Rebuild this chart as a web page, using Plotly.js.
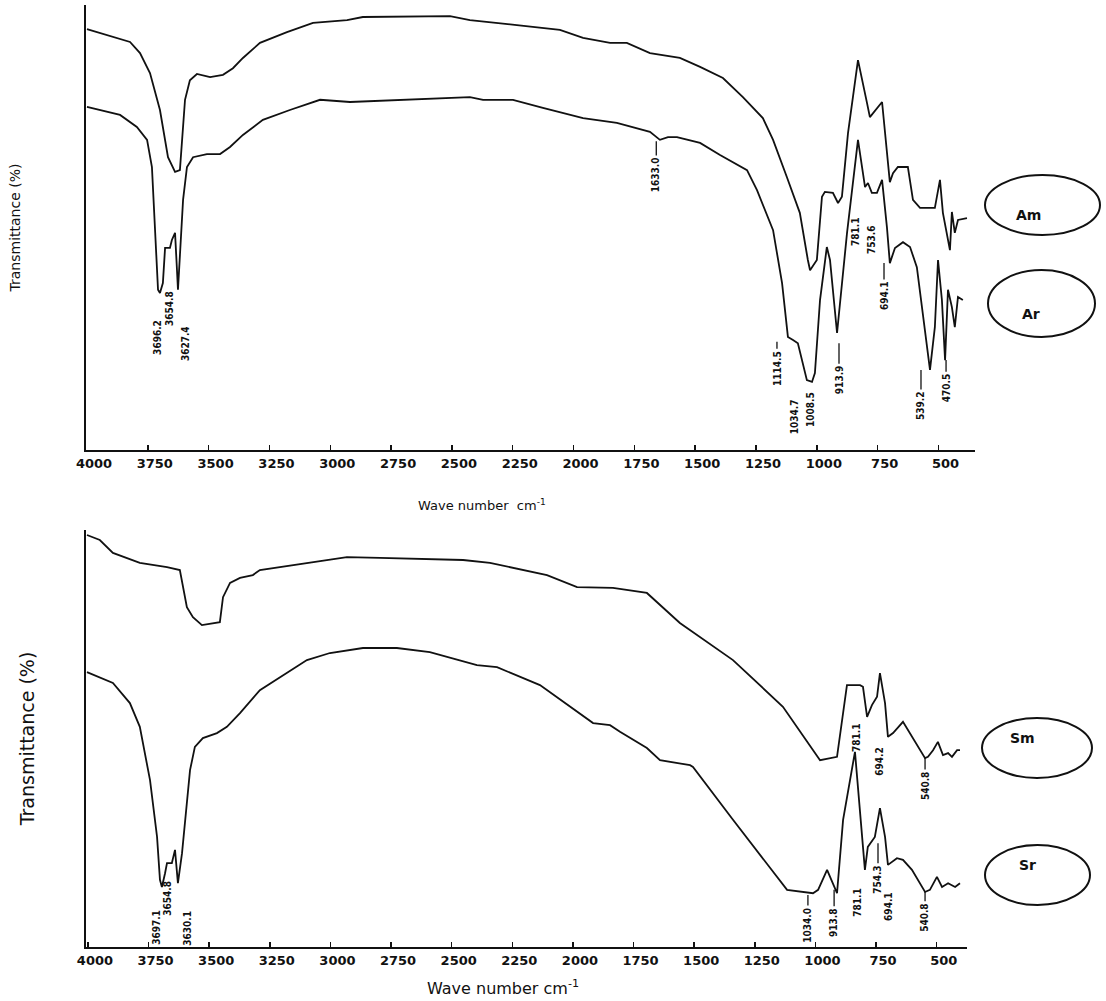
<!DOCTYPE html>
<html>
<head>
<meta charset="utf-8">
<script src="https://cdn.plot.ly/plotly-3.0.1.min.js"></script>
<style>
  html, body { margin: 0; padding: 0; background: #ffffff; }
  #chart { width: 1106px; height: 1001px; }
</style>
</head>
<body>
<div id="chart"></div>
<script>
// ---------- DATA ----------
// Top panel: Am (upper curve) and Ar (lower curve)
const amWave = [4000, 3823, 3782, 3741, 3700, 3667, 3638, 3618, 3597, 3577, 3548, 3494, 3441, 3400, 3359, 3289, 3178, 3071, 2931, 2866, 2508, 2426, 2233, 2056, 1961, 1850, 1781, 1686, 1563, 1480, 1386, 1304, 1222, 1180, 1123, 1070, 1037, 1028, 1000, 979, 967, 934, 913, 897, 872, 831, 794, 782, 732, 700, 687, 667, 626, 605, 576, 515, 494, 482, 453, 445, 433, 420, 383];
const amT    = [94.6, 91.7, 89.2, 84.7, 76.4, 65.8, 62.5, 62.9, 78.7, 83.1, 84.5, 83.8, 84.3, 85.8, 88.1, 91.5, 93.9, 96.0, 96.6, 97.3, 97.5, 96.6, 95.5, 94.4, 92.6, 91.5, 91.5, 89.2, 88.1, 86.1, 83.6, 79.3, 74.6, 69.7, 61.3, 53.3, 42.7, 40.4, 42.7, 56.9, 58.0, 57.8, 55.5, 56.9, 71.2, 87.6, 78.0, 74.8, 78.2, 60.2, 62.2, 63.6, 63.6, 56.2, 54.4, 54.4, 60.7, 53.3, 44.9, 53.5, 48.8, 51.7, 52.1];

const arWave = [4000, 3864, 3795, 3753, 3733, 3721, 3708, 3700, 3688, 3679, 3659, 3651, 3638, 3630, 3626, 3605, 3589, 3564, 3507, 3453, 3412, 3359, 3277, 3166, 3042, 2919, 2644, 2426, 2372, 2249, 2126, 1961, 1822, 1686, 1645, 1612, 1575, 1480, 1398, 1287, 1246, 1180, 1143, 1119, 1098, 1078, 1041, 1020, 1008, 987, 959, 946, 917, 876, 831, 802, 790, 774, 753, 732, 712, 700, 679, 646, 617, 589, 535, 515, 502, 486, 473, 461, 445, 433, 420, 400];
const arT    = [77.1, 75.3, 72.6, 69.7, 63.6, 48.8, 36.0, 35.3, 37.5, 45.4, 45.4, 47.2, 48.8, 40.4, 36.0, 56.2, 63.6, 65.8, 66.5, 66.5, 68.1, 70.8, 74.2, 76.4, 78.7, 78.2, 78.9, 79.3, 78.7, 78.7, 76.9, 74.6, 73.5, 71.5, 69.7, 70.3, 70.3, 69.0, 66.3, 62.9, 58.4, 49.4, 37.5, 25.4, 24.7, 24.0, 15.7, 15.3, 17.3, 33.7, 45.6, 42.7, 26.3, 48.8, 69.7, 59.1, 60.0, 57.8, 57.8, 60.7, 50.1, 42.0, 45.4, 46.7, 45.6, 41.1, 18.0, 27.6, 42.7, 33.7, 20.2, 36.0, 32.1, 27.6, 34.4, 33.7];

// Bottom panel: Sm (upper curve) and Sr (lower curve)
const smWave = [4004, 3951, 3897, 3786, 3674, 3621, 3592, 3567, 3530, 3497, 3456, 3443, 3414, 3373, 3320, 3291, 3208, 3072, 2932, 2796, 2453, 2342, 2107, 1983, 1835, 1695, 1559, 1340, 1134, 981, 911, 870, 816, 804, 787, 767, 746, 734, 713, 701, 680, 639, 602, 548, 536, 515, 495, 474, 453, 437, 416, 404];
const smT    = [98.8, 97.6, 94.5, 92.1, 91.1, 90.4, 81.5, 79.1, 77.2, 77.5, 77.9, 83.9, 87.3, 88.5, 89.2, 90.4, 91.1, 92.3, 93.5, 93.3, 92.8, 92.1, 89.2, 86.3, 86.1, 84.9, 77.7, 68.8, 57.6, 44.8, 45.6, 62.8, 62.8, 62.4, 55.2, 58.0, 60.0, 65.7, 58.5, 50.4, 51.3, 54.0, 50.4, 45.3, 45.6, 47.2, 49.2, 46.0, 46.5, 45.6, 47.2, 47.2];

const srWave = [4004, 3897, 3827, 3786, 3744, 3715, 3703, 3695, 3682, 3674, 3654, 3641, 3629, 3612, 3579, 3559, 3526, 3468, 3427, 3373, 3291, 3208, 3097, 3002, 2866, 2726, 2590, 2396, 2313, 2136, 1971, 1917, 1847, 1806, 1695, 1641, 1517, 1505, 1340, 1117, 1010, 989, 952, 911, 886, 837, 796, 784, 755, 734, 713, 701, 664, 639, 602, 548, 528, 499, 478, 453, 424, 404];
const srT    = [65.9, 63.3, 58.5, 52.8, 40.0, 26.4, 16.1, 14.4, 17.7, 20.1, 20.1, 23.3, 15.3, 22.5, 42.4, 48.0, 50.1, 51.3, 52.8, 56.1, 61.6, 64.7, 68.8, 70.5, 71.7, 71.7, 70.7, 67.6, 67.1, 62.8, 56.1, 53.7, 53.2, 51.6, 47.7, 44.8, 43.6, 43.2, 30.5, 13.7, 12.9, 13.7, 18.5, 12.9, 30.5, 46.8, 18.5, 24.0, 26.4, 33.3, 26.4, 19.7, 21.3, 20.9, 18.5, 13.2, 13.7, 16.8, 14.4, 15.3, 14.4, 15.3];

// Tick labels
const tickVals = [4000, 3750, 3500, 3250, 3000, 2750, 2500, 2250, 2000, 1750, 1500, 1250, 1000, 750, 500];
const tickText = tickVals.map(String);

// Peak labels
const topPeakLabels    = ["3696.2", "3654.8", "3627.4", "1633.0", "1114.5", "1034.7", "1008.5", "913.9", "781.1", "753.6", "694.1", "539.2", "470.5"];
const bottomPeakLabels = ["3697.1", "3654.8", "3630.1", "781.1", "694.2", "540.8", "1034.0", "913.8", "781.1", "754.3", "694.1", "540.8"];
const sampleNames = ["Am", "Ar", "Sm", "Sr"];

// ---------- PLACEMENT (positions only) ----------
// [x, y of label centre, y of the top of its marker line (null = no line)]
const topPeakPos = [[3708, 25.2, null], [3663, 31.9, null], [3597, 23.8, null], [1660, 61.8, 69.4], [1164, 18.4, 24.3],
  [1094, 7.6, null], [1024, 9.0, null], [909, 15.7, 24.0], [839, 49.0, null], [773, 47.2, null], [724, 34.6, 42.0],
  [572, 9.9, 18.0], [469, 13.9, 20.2]];
const bottomPeakPos = [[3715, 4.6, null], [3670, 11.8, null], [3588, 4.6, null], [833, 50.1, null], [734, 44.4, null],
  [548, 38.6, 45.3], [1031, 5.3, 12.5], [923, 5.8, 13.7], [825, 10.6, null], [742, 16.1, 24.9], [697, 9.6, null], [548, 7.0, 13.2]];

const W = 1106, H = 1001;
const px = v => v / W;
const py = v => 1 - v / H;
// pixels per y-unit in each panel (plot height / 100)
const topPxPerUnit = 4.45, bottomPxPerUnit = 4.17;

const lineStyle = {color: '#111111', width: 1.8};

const traces = [
  {x: amWave, y: amT, name: sampleNames[0], type: 'scatter', mode: 'lines', line: lineStyle, xaxis: 'x', yaxis: 'y', showlegend: false},
  {x: arWave, y: arT, name: sampleNames[1], type: 'scatter', mode: 'lines', line: lineStyle, xaxis: 'x', yaxis: 'y', showlegend: false},
  {x: smWave, y: smT, name: sampleNames[2], type: 'scatter', mode: 'lines', line: lineStyle, xaxis: 'x2', yaxis: 'y2', showlegend: false},
  {x: srWave, y: srT, name: sampleNames[3], type: 'scatter', mode: 'lines', line: lineStyle, xaxis: 'x2', yaxis: 'y2', showlegend: false}
];

const tickFont = {family: 'DejaVu Sans, sans-serif', size: 13, color: '#111', weight: 'bold'};
const peakFont = {family: 'Liberation Sans Narrow, DejaVu Sans Condensed, DejaVu Sans, sans-serif', size: 10, color: '#111', weight: 'bold'};

const xBase = {
  tickmode: 'array', tickvals: tickVals, ticktext: tickText,
  ticks: 'inside', ticklen: 5, tickwidth: 1.5, tickcolor: '#111',
  ticklabelshift: -7,
  showline: true, linecolor: '#111', linewidth: 2,
  showgrid: false, zeroline: false, tickfont: tickFont, fixedrange: true
};
const yBase = {
  showline: true, linecolor: '#111', linewidth: 2,
  showgrid: false, zeroline: false, showticklabels: false, ticks: '',
  range: [0, 100], fixedrange: true
};

const layout = {
  width: W, height: H,
  margin: {l: 0, r: 0, t: 0, b: 0},
  paper_bgcolor: '#ffffff', plot_bgcolor: '#ffffff',
  showlegend: false,
  xaxis: Object.assign({}, xBase, {domain: [px(86), px(975)], range: [4004, 350], anchor: 'y'}),
  yaxis: Object.assign({}, yBase, {domain: [py(450), py(5)], anchor: 'x',
    title: {text: 'Transmittance (%)', font: {family: 'DejaVu Sans, sans-serif', size: 14, color: '#111'}, standoff: 60}}),
  xaxis2: Object.assign({}, xBase, {domain: [px(86), px(967)], range: [4008, 375], anchor: 'y2'}),
  yaxis2: Object.assign({}, yBase, {domain: [py(947), py(530)], anchor: 'x2',
    title: {text: 'Transmittance (%)', font: {family: 'DejaVu Sans, sans-serif', size: 19, color: '#111'}, standoff: 44}}),
  shapes: [],
  annotations: []
};

// x-axis titles
layout.annotations.push({xref: 'paper', yref: 'paper', x: px(482), y: py(515), yanchor: 'bottom', text: 'Wave number  cm<sup>-1</sup>',
  showarrow: false, font: {family: 'DejaVu Sans, sans-serif', size: 13, color: '#111'}});
layout.annotations.push({xref: 'paper', yref: 'paper', x: px(503), y: py(1000), yanchor: 'bottom', text: 'Wave number cm<sup>-1</sup>',
  showarrow: false, font: {family: 'DejaVu Sans, sans-serif', size: 16, color: '#111'}});

// peak labels and their short marker lines
function addPeak(t, p, xr, yr, pxPerUnit) {
  layout.annotations.push({xref: xr, yref: yr, x: p[0], y: p[1], text: t, textangle: -90, showarrow: false, font: peakFont});
  if (p[2] !== null) {
    const halfLenPx = t.length * 2.9 + 2;
    layout.shapes.push({type: 'line', xref: xr, yref: yr, x0: p[0], x1: p[0], y0: p[2], y1: p[1] + halfLenPx / pxPerUnit,
      line: {color: '#111', width: 1.3}});
  }
}
topPeakLabels.forEach((t, i) => addPeak(t, topPeakPos[i], 'x', 'y', topPxPerUnit));
bottomPeakLabels.forEach((t, i) => addPeak(t, bottomPeakPos[i], 'x2', 'y2', bottomPxPerUnit));

// sample ellipses
const ellipseBoxes = [[985, 1100, 175, 235], [988, 1095, 270, 337], [982, 1092, 718, 778], [985, 1090, 845, 905]];
sampleNames.forEach((n, i) => {
  const b = ellipseBoxes[i];
  layout.shapes.push({type: 'circle', xref: 'paper', yref: 'paper', x0: px(b[0]), x1: px(b[1]), y0: py(b[3]), y1: py(b[2]),
    line: {color: '#111', width: 2}, fillcolor: 'rgba(0,0,0,0)'});
  layout.annotations.push({xref: 'paper', yref: 'paper', x: px((b[0] + b[1]) / 2), y: py((b[2] + b[3]) / 2), text: n,
    showarrow: false, font: {family: 'DejaVu Sans, sans-serif', size: 14, color: '#111', weight: 'bold'}});
});

Plotly.newPlot('chart', traces, layout, {staticPlot: true, displayModeBar: false});
</script>
</body>
</html>
